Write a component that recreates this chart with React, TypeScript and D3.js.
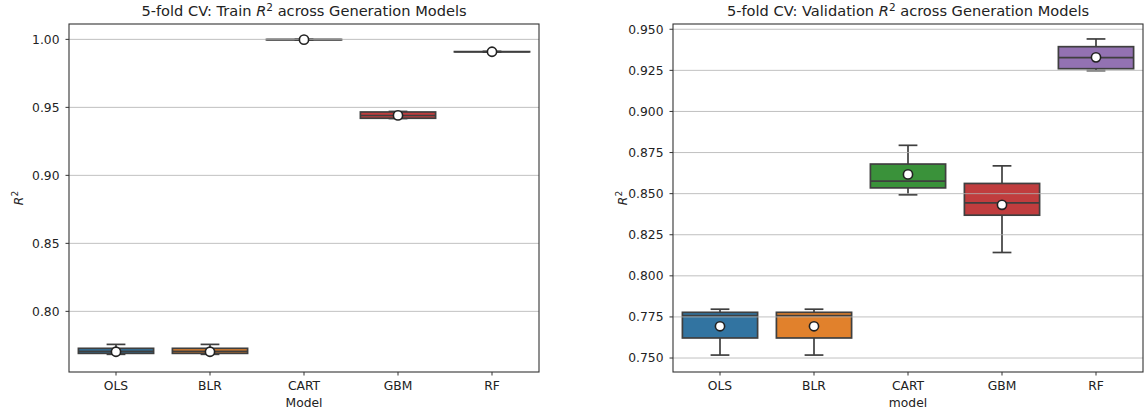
import React from 'react';
import * as d3 from 'd3';

const models = ['OLS', 'BLR', 'CART', 'GBM', 'RF'];
const colors = ['#3274a1', '#e1812c', '#3a923a', '#c03d3e', '#9372b2'];

// train R^2 (5-fold)
const trainLow = [0.7684, 0.7684, 0.9996, 0.9418, 0.9906];
const trainQ1 = [0.7691, 0.7691, 0.9997, 0.9420, 0.9908];
const trainMedian = [0.7705, 0.7705, 0.9998, 0.9440, 0.9909];
const trainQ3 = [0.7728, 0.7728, 0.9999, 0.9466, 0.9910];
const trainHigh = [0.7757, 0.7757, 1.0000, 0.9470, 0.9912];
const trainMean = [0.7703, 0.7703, 0.9998, 0.9441, 0.9909];

// validation R^2
const valLow = [0.7518, 0.7518, 0.8493, 0.8142, 0.9248];
const valQ1 = [0.7622, 0.7622, 0.8535, 0.8369, 0.9260];
const valMedian = [0.7758, 0.7758, 0.8576, 0.8444, 0.9327];
const valQ3 = [0.7778, 0.7778, 0.8680, 0.8562, 0.9394];
const valHigh = [0.7797, 0.7797, 0.8794, 0.8669, 0.9441];
const valMean = [0.7693, 0.7693, 0.8617, 0.8432, 0.9329];

const trainTicks = [0.80, 0.85, 0.90, 0.95, 1.00];
const valTicks = [0.750, 0.775, 0.800, 0.825, 0.850, 0.875, 0.900, 0.925, 0.950];

const FONT = '"DejaVu Sans", sans-serif';
const INK = '#3f3f3f';

function Panel({ left, top, width, height, domain, ticks, fmt, title, titleTail, xLabel, stats }) {
  const x = d3.scaleLinear().domain([-0.5, models.length - 0.5]).range([left, left + width]);
  const y = d3.scaleLinear().domain(domain).range([top + height, top]);
  const bw = x(0.4) - x(0);
  const cw = bw / 2;
  const cx = left + width / 2;

  return (
    <g>
      <text x={cx} y={top - 8} textAnchor="middle" fontFamily={FONT} fontSize={14.6} fill="#222">
        {title}
        <tspan fontStyle="italic">R</tspan>
        <tspan dy={-5} fontSize={10.5}>2</tspan>
        <tspan dy={5}>{titleTail}</tspan>
      </text>

      {models.map((m, i) => {
        const xc = x(i);
        return (
          <g key={m}>
            <line x1={xc} x2={xc} y1={y(stats.high[i])} y2={y(stats.q3[i])} stroke={INK} strokeWidth={1.7} />
            <line x1={xc} x2={xc} y1={y(stats.q1[i])} y2={y(stats.low[i])} stroke={INK} strokeWidth={1.7} />
            <line x1={xc - cw / 2} x2={xc + cw / 2} y1={y(stats.high[i])} y2={y(stats.high[i])} stroke={INK} strokeWidth={1.7} />
            <line x1={xc - cw / 2} x2={xc + cw / 2} y1={y(stats.low[i])} y2={y(stats.low[i])} stroke={INK} strokeWidth={1.7} />
            <rect
              x={xc - bw}
              y={y(stats.q3[i])}
              width={bw * 2}
              height={Math.max(0.01, y(stats.q1[i]) - y(stats.q3[i]))}
              fill={colors[i]}
              stroke={INK}
              strokeWidth={1.7}
            />
            <line x1={xc - bw} x2={xc + bw} y1={y(stats.median[i])} y2={y(stats.median[i])} stroke={INK} strokeWidth={1.7} />
          </g>
        );
      })}

      {ticks.map(t => (
        <g key={t}>
          <line x1={left} x2={left + width} y1={y(t)} y2={y(t)} stroke="#b0b0b0" strokeOpacity={0.8} strokeWidth={1} />
          <line x1={left - 3.5} x2={left} y1={y(t)} y2={y(t)} stroke="#333" strokeWidth={1} />
          <text x={left - 9.5} y={y(t)} dy="0.35em" textAnchor="end" fontFamily={FONT} fontSize={12.3} fill="#222">
            {d3.format(fmt)(t)}
          </text>
        </g>
      ))}

      {models.map((m, i) => (
        <circle key={m} cx={x(i)} cy={y(stats.mean[i])} r={4.6} fill="white" stroke="#222" strokeWidth={1.6} />
      ))}

      <rect x={left} y={top} width={width} height={height} fill="none" stroke="#333" strokeWidth={1.1} />

      {models.map((m, i) => (
        <g key={m}>
          <line x1={x(i)} x2={x(i)} y1={top + height} y2={top + height + 3.5} stroke="#333" strokeWidth={1} />
          <text x={x(i)} y={top + height + 18} textAnchor="middle" fontFamily={FONT} fontSize={12.3} fill="#222">{m}</text>
        </g>
      ))}

      <text x={cx} y={top + height + 35} textAnchor="middle" fontFamily={FONT} fontSize={12.3} fill="#222">{xLabel}</text>

      <text transform={`translate(${left - 46},${top + height / 2}) rotate(-90)`} textAnchor="middle" fontFamily={FONT} fontSize={12.3} fill="#222">
        <tspan fontStyle="italic">R</tspan>
        <tspan dy={-5} fontSize={9}>2</tspan>
      </text>
    </g>
  );
}

export default function App() {
  const trainStats = { low: trainLow, q1: trainQ1, median: trainMedian, q3: trainQ3, high: trainHigh, mean: trainMean };
  const valStats = { low: valLow, q1: valQ1, median: valMedian, q3: valQ3, high: valHigh, mean: valMean };

  return (
    <svg width={1146} height={414} style={{ position: 'absolute', left: 0, top: 0, background: 'white' }}>
      <Panel
        left={69} top={24} width={470} height={348}
        domain={[0.7554, 1.0113]}
        ticks={trainTicks} fmt=".2f"
        title="5-fold CV: Train " titleTail=" across Generation Models"
        xLabel="Model" stats={trainStats}
      />
      <Panel
        left={673} top={24} width={470} height={348}
        domain={[0.7415, 0.9532]}
        ticks={valTicks} fmt=".3f"
        title="5-fold CV: Validation " titleTail=" across Generation Models"
        xLabel="model" stats={valStats}
      />
    </svg>
  );
}
